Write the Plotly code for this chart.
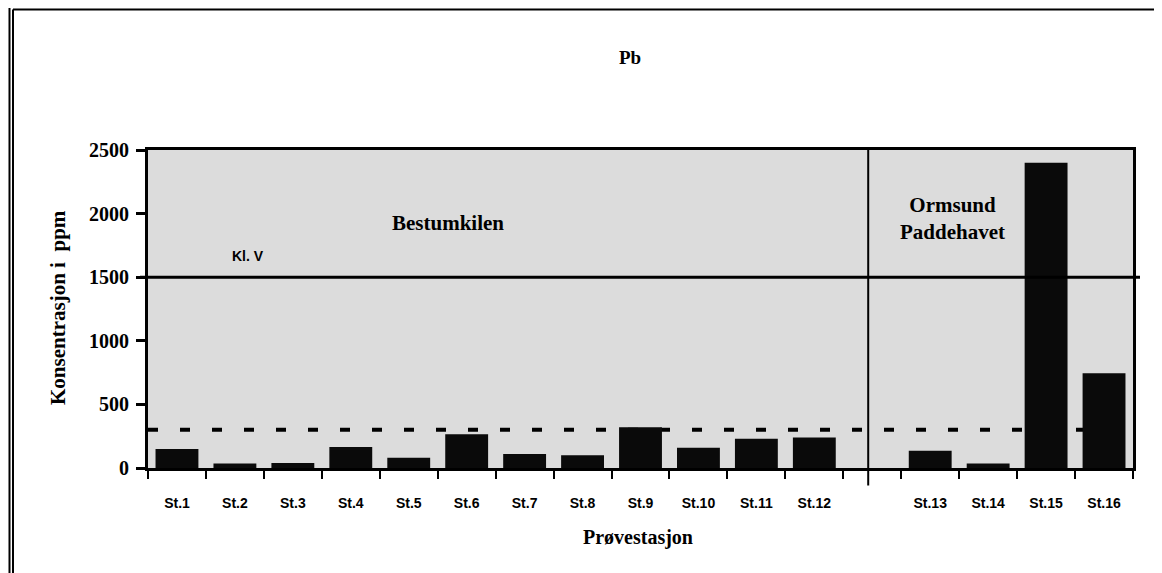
import plotly.graph_objects as go

# ---- data ----
stations = ["St.1", "St.2", "St.3", "St.4", "St.5", "St.6", "St.7", "St.8",
            "St.9", "St.10", "St.11", "St.12", "St.13", "St.14", "St.15", "St.16"]
pb_ppm = [150, 35, 40, 165, 80, 265, 110, 100, 320, 160, 230, 240, 135, 35, 2400, 745]
group_names = ["Bestumkilen", "Ormsund<br>Paddehavet"]
n_first_group = 12          # St.1 - St.12 belong to Bestumkilen
class_v_limit = 1500        # "Kl. V" limit
dashed_limit = 300          # dashed reference level
y_ticks = [0, 500, 1000, 1500, 2000, 2500]

# positions: one empty slot between the two groups
gap_pos = n_first_group
positions = [i if i < n_first_group else i + 1 for i in range(len(stations))]
n_slots = len(stations) + 1
boundaries = [k - 0.5 for k in range(n_slots + 1)]

serif = "Liberation Serif, Times New Roman, serif"
sans = "Liberation Sans, Arial, sans-serif"

fig = go.Figure()
fig.add_trace(go.Bar(
    x=positions, y=pb_ppm, width=0.74,
    marker=dict(color="#0a0a0a", line=dict(width=0)),
    showlegend=False, hoverinfo="x+y",
))

# page body has an 8px margin: figure starts at (8, 8)
fig.update_layout(
    width=1154, height=565,
    margin=dict(l=140, r=29, t=142, b=105),
    paper_bgcolor="white",
    plot_bgcolor="#dcdcdc",
    showlegend=False,
)

fig.update_xaxes(
    range=[-0.5, n_slots - 0.5],
    tickmode="array", tickvals=positions, ticktext=stations,
    ticks="", ticklabelstandoff=20,
    tickfont=dict(family=sans, size=14, color="black", weight="bold"),
    showline=True, linecolor="black", linewidth=3, mirror=True,
    showgrid=False, zeroline=False,
    minor=dict(tickmode="array", tickvals=boundaries, ticks="outside",
               ticklen=8, tickwidth=2, tickcolor="black", showgrid=False),
)
fig.update_yaxes(
    range=[0, 2500],
    tickmode="array", tickvals=y_ticks,
    ticks="outside", ticklen=9, tickwidth=3, tickcolor="black",
    ticklabelstandoff=3,
    tickfont=dict(family=serif, size=20, color="black", weight="bold"),
    showline=True, linecolor="black", linewidth=3, mirror=True,
    showgrid=False, zeroline=False,
)

# page pixel -> paper coordinates (plot area spans x 148..1133, y 150..460 on the page)
def px(xp):
    return (xp - 148) / 985


def py(yp):
    return (460 - yp) / 310


shapes = []
shapes.append(dict(type="line", xref="paper", yref="y", x0=0, x1=1.0,
                   y0=dashed_limit, y1=dashed_limit, layer="below",
                   line=dict(color="black", width=4, dash="10px,22px")))
shapes.append(dict(type="line", xref="paper", yref="y", x0=px(140), x1=px(1140),
                   y0=class_v_limit, y1=class_v_limit, layer="above",
                   line=dict(color="black", width=3)))
shapes.append(dict(type="line", xref="x", yref="paper", x0=gap_pos - 0.07, x1=gap_pos - 0.07,
                   y0=py(477), y1=1, layer="above",
                   line=dict(color="black", width=2)))
for p in (9.5, 13):
    shapes.append(dict(type="line", xref="paper", yref="paper",
                       x0=px(p), x1=px(1154), y0=py(p), y1=py(p), layer="above",
                       line=dict(color="black", width=2)))
    shapes.append(dict(type="line", xref="paper", yref="paper",
                       x0=px(p), x1=px(p), y0=py(p), y1=py(575), layer="above",
                       line=dict(color="black", width=2)))
fig.update_layout(shapes=shapes)

ann = [
    dict(text="Pb", x=px(630), y=py(60),
         font=dict(family=serif, size=19, color="black", weight="bold")),
    dict(text=group_names[0], x=px(448), y=py(221),
         font=dict(family=serif, size=21, color="black", weight="bold")),
    dict(text=group_names[1], x=px(952), y=py(217),
         font=dict(family=serif, size=21, color="black", weight="bold")),
    dict(text="Kl. V", x=px(248), y=py(253),
         font=dict(family=sans, size=14, color="black", weight="bold")),
    dict(text="Prøvestasjon", x=px(638), y=py(528),
         font=dict(family=serif, size=20, color="black", weight="bold")),
    dict(text="Konsentrasjon i  ppm", x=px(58), y=py(304), textangle=-90,
         font=dict(family=serif, size=21, color="black", weight="bold")),
]
for a in ann:
    a.update(xref="paper", yref="paper", showarrow=False,
             xanchor="center", yanchor="middle")
fig.update_layout(annotations=ann)

fig.write_html("out.html")
